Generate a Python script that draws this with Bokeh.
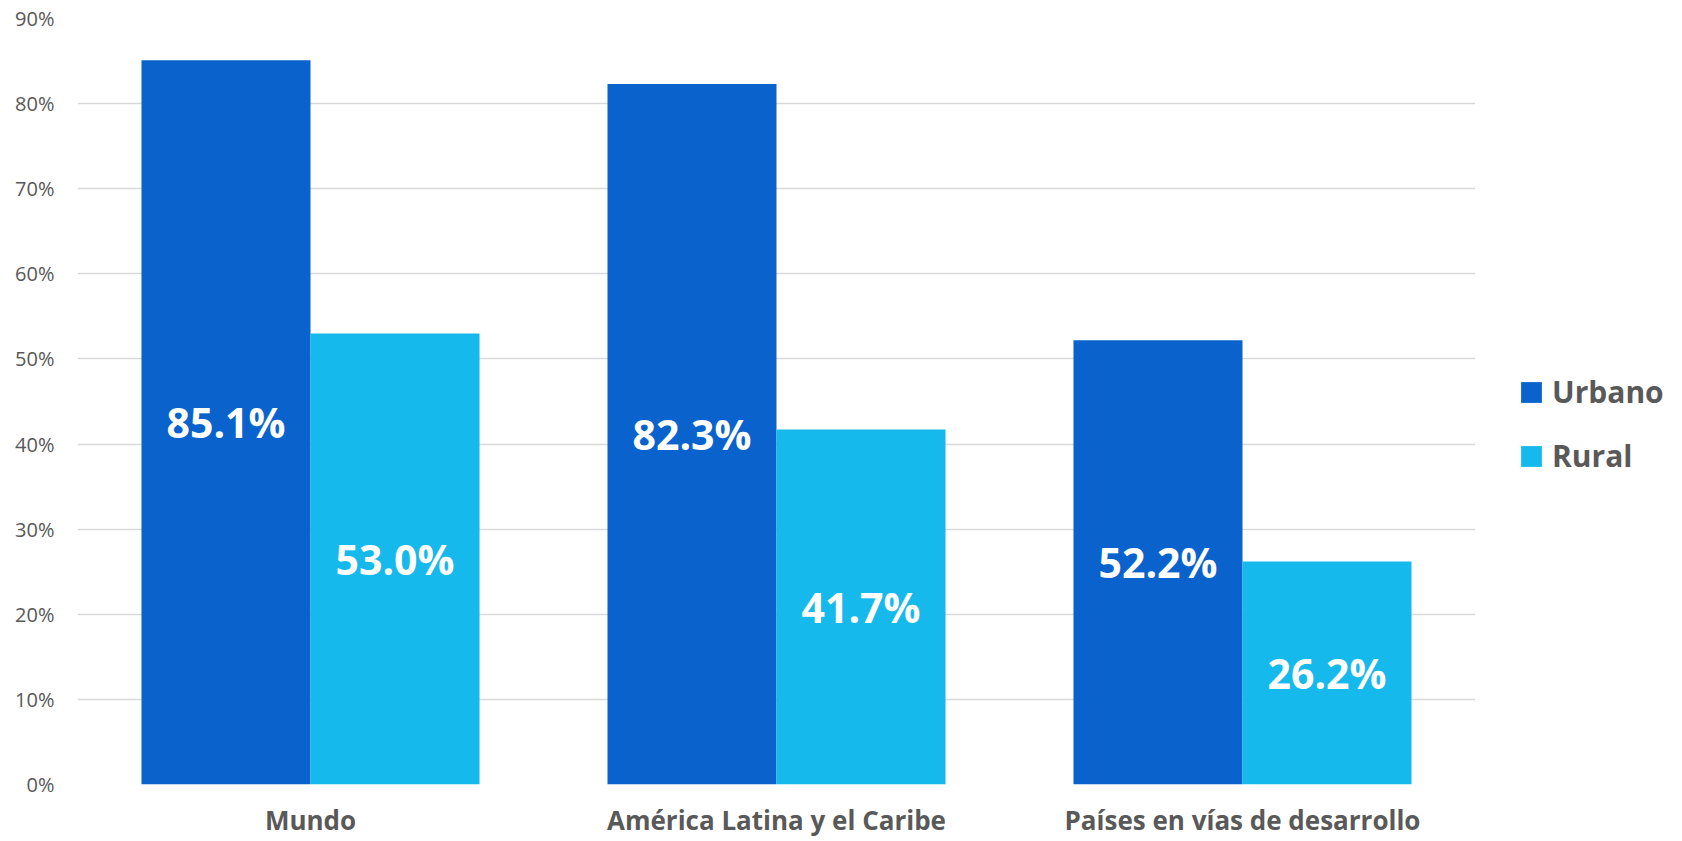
from bokeh.plotting import figure
from bokeh.layouts import row
from bokeh.models import (ColumnDataSource, FactorRange, Range1d, FixedTicker,
                          PrintfTickFormatter, Legend, LegendItem)
from bokeh.transform import dodge
from bokeh.core.properties import value
from bokeh.embed import file_html
from bokeh.resources import INLINE

# ---- data ----
categories = ["Mundo", "América Latina y el Caribe", "Países en vías de desarrollo"]
urbano = [85.1, 82.3, 52.2]
rural = [53.0, 41.7, 26.2]
series_names = ["Urbano", "Rural"]
y_ticks = [0, 10, 20, 30, 40, 50, 60, 70, 80, 90]

# ---- style ----
colors = ["#0A63CD", "#15B9EC"]
FONT = "Open Sans"
GREY = "#595959"
GRID = "#D9D9D9"
BAR_W = 0.3627
OFF = BAR_W / 2

src = ColumnDataSource(dict(
    cat=categories,
    urbano=urbano,
    rural=rural,
    urbano_mid=[v / 2 for v in urbano],
    rural_mid=[v / 2 for v in rural],
    urbano_lbl=[f"{v:.1f}%" for v in urbano],
    rural_lbl=[f"{v:.1f}%" for v in rural],
))

p = figure(
    x_range=FactorRange(*categories, range_padding=0),
    y_range=Range1d(0, 90),
    width=1475, height=841,
    output_backend="svg", toolbar_location=None,
    min_border_left=77, min_border_right=0,
    min_border_top=18, min_border_bottom=57,
)
p.outline_line_color = None
p.background_fill_color = "white"
p.border_fill_color = "white"

r_u = p.vbar(x=dodge("cat", -OFF, range=p.x_range), top="urbano", width=BAR_W,
             source=src, fill_color=colors[0], line_color=None)
r_r = p.vbar(x=dodge("cat", OFF, range=p.x_range), top="rural", width=BAR_W,
             source=src, fill_color=colors[1], line_color=None)

for key, off in (("urbano", -OFF), ("rural", OFF)):
    p.text(x=dodge("cat", off, range=p.x_range), y=f"{key}_mid", text=f"{key}_lbl",
           source=src, text_align="center", text_baseline="middle",
           text_font=value(FONT), text_font_style="bold",
           text_font_size="41px", text_color="white")

# axes
p.yaxis.ticker = FixedTicker(ticks=y_ticks)
p.yaxis.formatter = PrintfTickFormatter(format="%d%%")
p.yaxis.axis_line_color = None
p.yaxis.major_tick_line_color = None
p.yaxis.minor_tick_line_color = None
p.yaxis.major_tick_out = 0
p.yaxis.major_tick_in = 0
p.yaxis.major_label_standoff = 23
p.yaxis.major_label_text_font = FONT
p.yaxis.major_label_text_font_size = "20px"
p.yaxis.major_label_text_color = GREY

p.xaxis.axis_line_color = None
p.xaxis.major_tick_line_color = None
p.xaxis.major_tick_out = 0
p.xaxis.major_tick_in = 0
p.xaxis.major_label_standoff = 17
p.xaxis.major_label_text_font = FONT
p.xaxis.major_label_text_font_style = "bold"
p.xaxis.major_label_text_font_size = "26px"
p.xaxis.major_label_text_color = GREY

p.xgrid.grid_line_color = None
p.ygrid.grid_line_color = GRID
p.ygrid.grid_line_width = 1.5
p.ygrid.ticker = FixedTicker(ticks=y_ticks)

# ---- legend panel (separate narrow figure to the right) ----
pl = figure(
    width=207, height=841,
    x_range=Range1d(0, 1), y_range=Range1d(0, 1),
    x_axis_location=None, y_axis_location=None,
    output_backend="svg", toolbar_location=None,
    min_border_left=0, min_border_right=0,
    min_border_top=18, min_border_bottom=57,
)
pl.outline_line_color = None
pl.grid.grid_line_color = None
pl.border_fill_color = "white"
pl.background_fill_color = "white"

# legend proxies (zero-height bar placed far outside the visible range)
leg_src = ColumnDataSource(dict(x=[-50.0], top=[0.0]))
lr_u = pl.vbar(x="x", top="top", width=0.1, source=leg_src,
               fill_color=colors[0], line_color=None)
lr_r = pl.vbar(x="x", top="top", width=0.1, source=leg_src,
               fill_color=colors[1], line_color=None)

legend = Legend(
    items=[LegendItem(label=series_names[0], renderers=[lr_u]),
           LegendItem(label=series_names[1], renderers=[lr_r])],
    location=(43, 308),
    glyph_width=26, glyph_height=26,
    label_standoff=8, spacing=23,
    padding=0, margin=0,
    border_line_alpha=0, background_fill_alpha=0,
    label_text_font=FONT, label_text_font_style="bold",
    label_text_font_size="30px", label_text_color=GREY,
)
pl.add_layout(legend)

layout = row(p, pl)
open("out.html", "w").write(file_html(layout, INLINE))
